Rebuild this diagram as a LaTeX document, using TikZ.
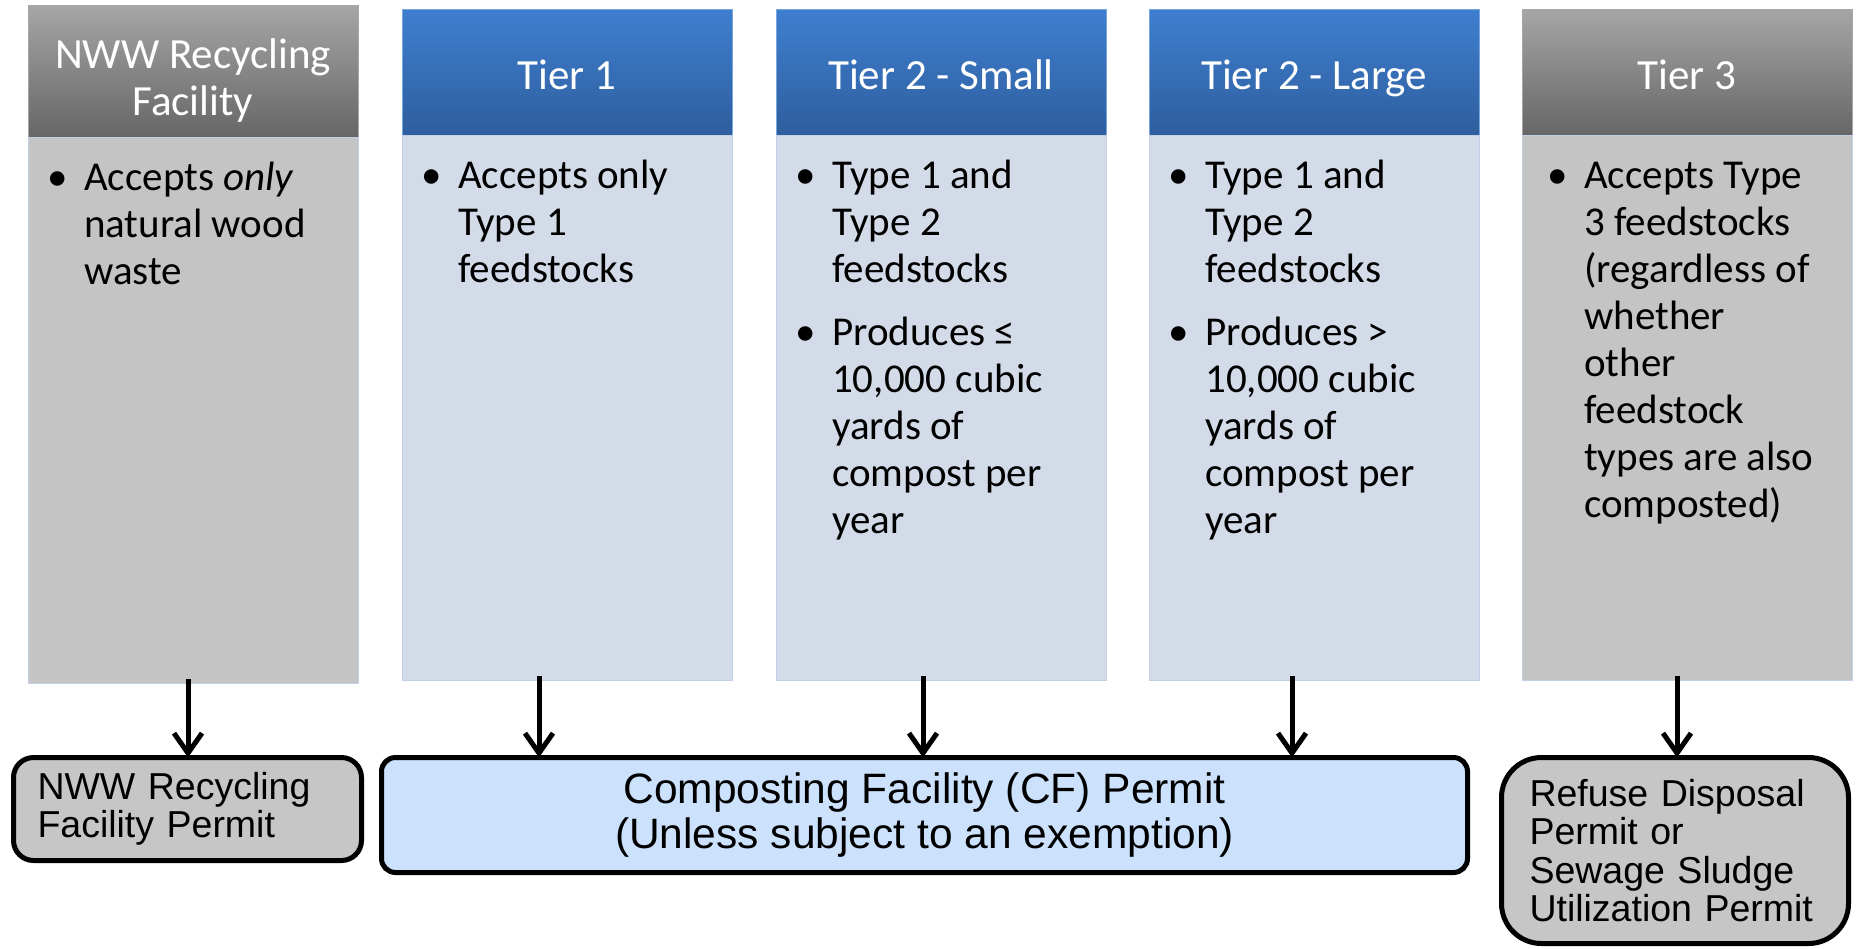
\documentclass[tikz,border=0pt]{standalone}
\usepackage{fontspec}
\setmainfont{Carlito}
\newfontfamily\permitfont{Liberation Sans}
\usetikzlibrary{positioning,arrows.meta}

\definecolor{hdrbluetop}{HTML}{3F7FCF}
\definecolor{hdrbluebot}{HTML}{2E5E9E}
\definecolor{hdrgraytop}{HTML}{A6A6A6}
\definecolor{hdrgraybot}{HTML}{666666}
\definecolor{bodyblue}{HTML}{D3DBE9}
\definecolor{bodygray}{HTML}{C4C4C4}
\definecolor{bodyedge}{HTML}{C3CFE6}
\definecolor{permitgray}{HTML}{C6C6C6}
\definecolor{permitblue}{HTML}{CCE1FB}

% bullet hung left of the text column; body text kept top-aligned on its first baseline
\newcommand{\bitem}{\leavevmode\llap{\textbullet\hspace{16pt}}}
\newcommand{\bullets}[1]{\begin{minipage}[t]{280pt}\raggedright #1\end{minipage}}

\tikzset{
  hdr/.style={rectangle, minimum width=330pt, minimum height=126pt, inner sep=0pt, outer sep=0pt,
    line width=0.6pt},
  hdrtitle/.style={text=white, align=center, inner sep=0pt, font=\fontsize{43}{47}\selectfont},
  hdrblue/.style={hdr, top color=hdrbluetop, bottom color=hdrbluebot, draw=hdrbluetop!70!white},
  hdrgray/.style={hdr, top color=hdrgraytop, bottom color=hdrgraybot, draw=hdrgraytop},
  tierbody/.style={rectangle, minimum width=330pt, minimum height=545pt, inner sep=0pt, outer sep=0pt,
    fill=#1, draw=bodyedge, line width=0.6pt},
  bodytext/.style={anchor=base west, inner sep=0pt, font=\fontsize{41}{47}\selectfont},
  permit/.style={rectangle, draw=black, line width=5pt, rounded corners=#1, outer sep=0pt,
    inner ysep=0pt, align=left, font=\permitfont\fontsize{37.5}{38.3}\selectfont},
  flow/.style={line width=5pt, -{Straight Barb[length=20pt,width=28pt]}}
}

\begin{document}
\begin{tikzpicture}[x=1pt, y=-1pt]
\useasboundingbox (0,0) rectangle (1858,948);

% column headers and bodies
\node (h1) [hdrgray, minimum height=132pt,
  label={[hdrtitle, yshift=-10pt]center:{NWW Recycling\\Facility}}] at (193,71) {};
\foreach \n/\x/\title in {2/567/Tier 1, 3/941/Tier 2 - Small, 4/1314/Tier 2 - Large} {
  \node (h\n) [hdrblue, label={[hdrtitle, text depth=0pt, yshift=-3pt]center:\title}] at (\x,72) {};
  \node (b\n) [tierbody=bodyblue, below=0pt of h\n] {};
}
\node (h5) [hdrgray, label={[hdrtitle, text depth=0pt, yshift=-3pt]center:Tier 3}] at (1687,72) {};
\node (b1) [tierbody=bodygray, minimum height=546pt, below=0pt of h1] {};
\node (b5) [tierbody=bodygray, below=0pt of h5] {};

% bullet text
\node (t1) [bodytext] at ([shift={(56,53)}]b1.north west)
  {\bullets{\bitem Accepts \textit{only}\\natural wood\\waste}};
\node (t2) [bodytext] at ([shift={(56,53)}]b2.north west)
  {\bullets{\bitem Accepts only\\Type 1\\feedstocks}};
\node (t3) [bodytext] at ([shift={(56,53)}]b3.north west)
  {\bullets{\bitem Type 1 and\\Type 2\\feedstocks\\[16pt]
   \bitem Produces ≤\\10,000 cubic\\yards of\\compost per\\year}};
\node (t4) [bodytext] at ([shift={(56,53)}]b4.north west)
  {\bullets{\bitem Type 1 and\\Type 2\\feedstocks\\[16pt]
   \bitem Produces >\\10,000 cubic\\yards of\\compost per\\year}};
\node (t5) [bodytext] at ([shift={(62,53)}]b5.north west)
  {\bullets{\bitem Accepts Type\\3 feedstocks\\(regardless of\\whether\\other\\feedstock\\types are also\\composted)}};

% permits
\node (nww) [permit=20pt, fill=permitgray, minimum width=348pt, minimum height=103pt,
  inner xsep=24pt, text width=300pt] at (187.5,809) {NWW Recycling\\Facility Permit};
\node (cf) [permit=14pt, fill=permitblue, minimum width=1086pt, minimum height=115pt,
  align=center, font=\permitfont\fontsize{42.5}{45}\selectfont] at (924.5,815)
  {Composting Facility (CF) Permit\\(Unless subject to an exemption)};
\node (refuse) [permit=40pt, fill=permitgray, minimum width=347pt, minimum height=186pt,
  inner xsep=28pt, text width=291pt] at (1675,850.5)
  {Refuse Disposal\\Permit or\\Sewage Sludge\\Utilization Permit};

\foreach \n/\dx/\target in {1/-5/nww, 2/-28/cf, 3/-18/cf, 4/-22/cf, 5/-10/refuse}
  \draw[flow] ([shift={(\dx,-4)}]b\n.south) -- ([shift={(\dx,0)}]b\n.south |- \target.north);
\end{tikzpicture}
\end{document}
